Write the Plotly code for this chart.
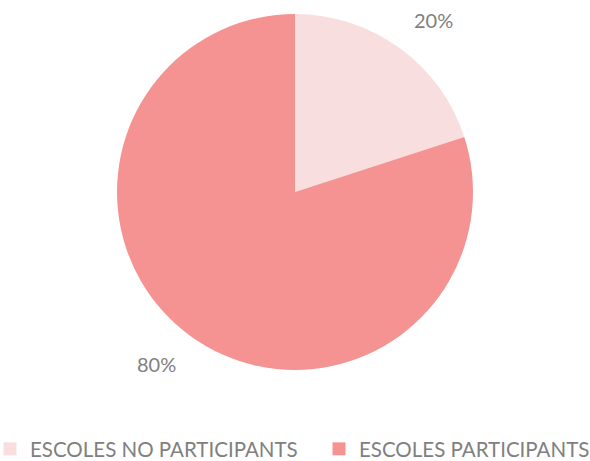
import math
import plotly.graph_objects as go

categories = ["ESCOLES NO PARTICIPANTS", "ESCOLES PARTICIPANTS"]
values = [20, 80]
colors = ["#F8DEDE", "#F59393"]

W, H = 590, 461
cx, cy, r = 295, 192, 178
FONT = "Lato, Open Sans, sans-serif"
GRAY = "#808080"

fig = go.Figure(go.Pie(
    labels=categories,
    values=values,
    sort=False,
    direction="clockwise",
    rotation=0,
    marker=dict(colors=colors, line=dict(color="white", width=0)),
    textinfo="none",
    hoverinfo="label+percent",
    showlegend=False,
    domain=dict(x=[(cx - r) / W, (cx + r) / W], y=[(H - cy - r) / H, (H - cy + r) / H]),
))

# legend entries (one per category, each in its own legend for placement)
legend_x_px = [-10, 319]
for i, (name, col) in enumerate(zip(categories, colors)):
    fig.add_trace(go.Scatter(
        x=[None], y=[None], mode="markers", name=name,
        marker=dict(symbol="square", size=13, color=col),
        legend="legend" if i == 0 else "legend2",
        hoverinfo="skip",
    ))

# percentage labels placed outside along the slice mid-angle
total = sum(values)
start = 0.0
annotations = []
for v in values:
    mid = (start + v / 2) / total * 2 * math.pi + math.radians(3)
    start += v
    rr = r * 1.24
    px = cx + rr * math.sin(mid)
    py = cy - rr * math.cos(mid)
    annotations.append(dict(
        x=px / W, y=1 - py / H, xref="paper", yref="paper",
        xanchor="center", yanchor="middle",
        text=f"{round(v / total * 100)}%", showarrow=False,
        font=dict(family=FONT, size=20, color=GRAY),
    ))

legend_common = dict(
    orientation="h", xanchor="left", y=-8 / H, yanchor="bottom",
    font=dict(family=FONT, size=20.5, color=GRAY), bgcolor="rgba(0,0,0,0)",
)

fig.update_layout(
    width=W, height=H,
    margin=dict(l=0, r=0, t=0, b=0, autoexpand=False),
    paper_bgcolor="white",
    plot_bgcolor="white",
    annotations=annotations,
    xaxis=dict(visible=False),
    yaxis=dict(visible=False),
    legend=dict(x=legend_x_px[0] / W, **legend_common),
    legend2=dict(x=legend_x_px[1] / W, **legend_common),
)

fig.write_html("out.html", config={"displayModeBar": False},
               post_script="document.body.style.margin='0';")
